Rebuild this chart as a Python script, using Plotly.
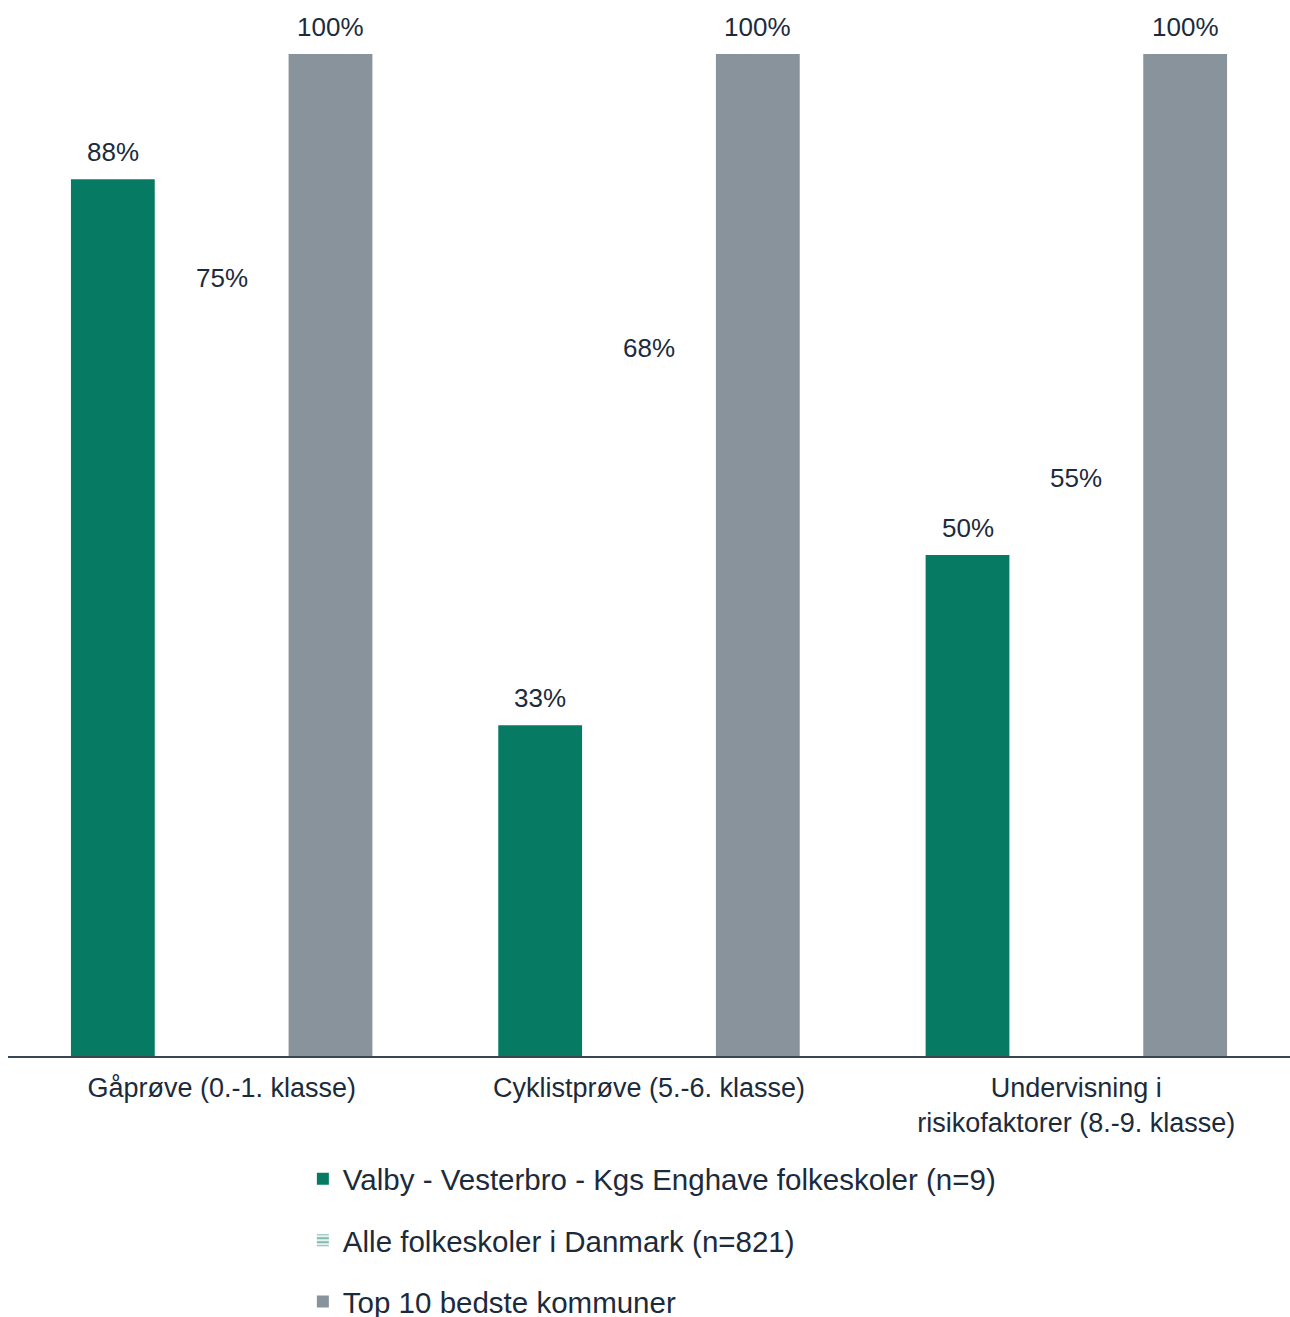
import plotly.graph_objects as go

categories = ["Gåprøve (0.-1. klasse)", "Cyklistprøve (5.-6. klasse)", "Undervisning i<br>risikofaktorer (8.-9. klasse)"]
series_names = ["Valby - Vesterbro - Kgs Enghave folkeskoler (n=9)", "Alle folkeskoler i Danmark (n=821)", "Top 10 bedste kommuner"]
valby = [87.5, 33, 50]
alle = [75, 68, 55]
top10 = [100, 100, 100]

GREEN = "#067A63"
GREY = "#89939B"
TEXT = "#1C2B3C"
FONT = "Liberation Sans, Arial, sans-serif"
BARGAP = 0.236

xpos = list(range(len(categories)))
slot = (1 - BARGAP) / 3

fig = go.Figure()
fig.add_trace(go.Bar(
    x=xpos, y=valby, name=series_names[0], marker=dict(color=GREEN, line=dict(width=0)),
    offsetgroup="a", legendgroup="a",
))
fig.add_trace(go.Bar(
    x=xpos, y=alle, name=series_names[1], marker=dict(color="white", line=dict(width=0)),
    offsetgroup="b", showlegend=False, hoverinfo="skip",
))
fig.add_trace(go.Bar(
    x=[xpos[0]], y=[None], name=series_names[1],
    marker=dict(color="white", line=dict(width=0),
                pattern=dict(shape="-", fgcolor=GREEN, bgcolor="white", size=5, solidity=0.6)),
    offsetgroup="b", legendgroup="b", hoverinfo="skip",
))
fig.add_trace(go.Bar(
    x=xpos, y=top10, name=series_names[2], marker=dict(color=GREY, line=dict(width=0)),
    offsetgroup="c", legendgroup="c",
))

annotations = []
for k, vals in enumerate([valby, alle, top10]):
    for i, v in enumerate(vals):
        annotations.append(dict(
            x=xpos[i] + (k - 1) * slot, y=v, xref="x", yref="y",
            text=f"{round(v)}%", showarrow=False, yanchor="bottom", yshift=10,
            font=dict(size=26, color=TEXT, family=FONT),
        ))

fig.update_layout(
    width=1290, height=1317,
    margin=dict(l=8, r=0, t=54, b=261, autoexpand=False),
    plot_bgcolor="white", paper_bgcolor="white",
    barmode="group", bargap=BARGAP, bargroupgap=0.23,
    font=dict(family=FONT, color=TEXT, size=26),
    showlegend=True,
    annotations=annotations,
    legend=dict(
        orientation="v", x=0.230, xanchor="left", y=-0.097, yanchor="top",
        font=dict(size=29.5, color=TEXT), tracegroupgap=20, traceorder="grouped",
    ),
)
fig.update_xaxes(
    range=[-0.5, len(categories) - 0.5],
    tickmode="array", tickvals=xpos, ticktext=categories,
    showline=True, linecolor="#3A4654", linewidth=1.5, ticks="", ticklabelstandoff=7,
    tickfont=dict(size=27, color=TEXT), showgrid=False, zeroline=False, automargin=False,
)
fig.update_yaxes(range=[0, 100], visible=False, showgrid=False, automargin=False)

fig.write_html("out.html", config={"displayModeBar": False},
               post_script="document.body.style.margin='0';document.body.style.overflow='hidden';")
